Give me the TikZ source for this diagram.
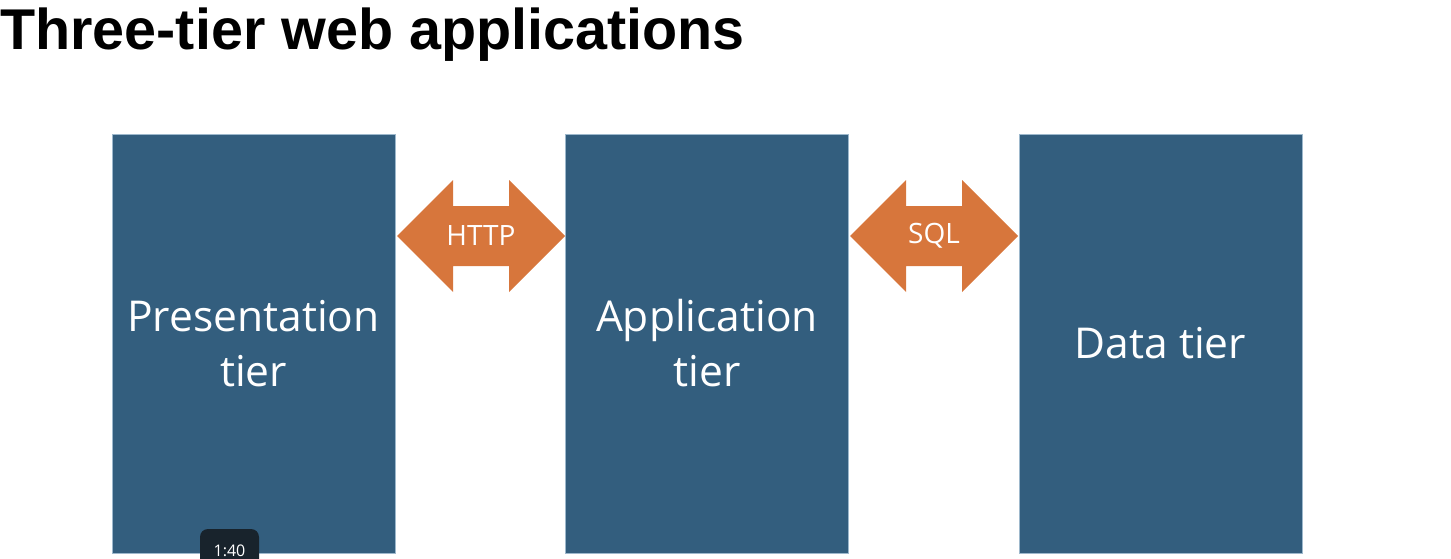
\documentclass[tikz,border=0pt]{standalone}
\usepackage{fontspec}
\setmainfont{Liberation Sans}
\newfontfamily\tierfont{Open Sans}
\definecolor{tierblue}{HTML}{335E7E}
\definecolor{tieredge}{HTML}{9DB8CC}
\definecolor{linkorange}{HTML}{D7763C}
\definecolor{badgegray}{HTML}{18232C}
\begin{document}
\begin{tikzpicture}[x=1pt,y=-1pt,
  tierbox/.style={fill=tierblue, draw=tieredge, line width=0.8pt, minimum width=283pt, minimum height=419pt, inner sep=0pt, align=center, text=white, font=\tierfont\fontsize{42.5}{55}\selectfont},
  linkarrow/.style={fill=linkorange},
  linklabel/.style={text=white, inner sep=0pt, font=\tierfont\fontsize{28}{32}\selectfont}]
\useasboundingbox (0,0) rectangle (1451,559);
\node[anchor=base west, inner sep=0pt, font=\bfseries\fontsize{57.5}{60}\selectfont] (title) at (0,50) {Three-tier web applications};
\node[tierbox] (pres) at (253.5,343.5) {Presentation\\tier};
\node[tierbox] (app) at (707,343.5) {Application\\tier};
\node[tierbox] (data) at (1160.5,343.5) {Data tier};
\fill[linkarrow] (397,236) -- (453,180) -- (453,206) -- (509,206) -- (509,180) -- (565,236) -- (509,292) -- (509,266) -- (453,266) -- (453,292) -- cycle;
\node[linklabel] (http) at (481,236) {HTTP};
\fill[linkarrow] (850,236) -- (906,180) -- (906,206) -- (962,206) -- (962,180) -- (1018,236) -- (962,292) -- (962,266) -- (906,266) -- (906,292) -- cycle;
\node[linklabel] (sql) at (934,236) {SQL};
\fill[badgegray, rounded corners=8pt] (200,569) rectangle (259,529);
\node[text=white, inner sep=0pt, font=\tierfont\fontsize{16}{18}\selectfont] (clock) at (229.5,551) {1:40};
\end{tikzpicture}
\end{document}
